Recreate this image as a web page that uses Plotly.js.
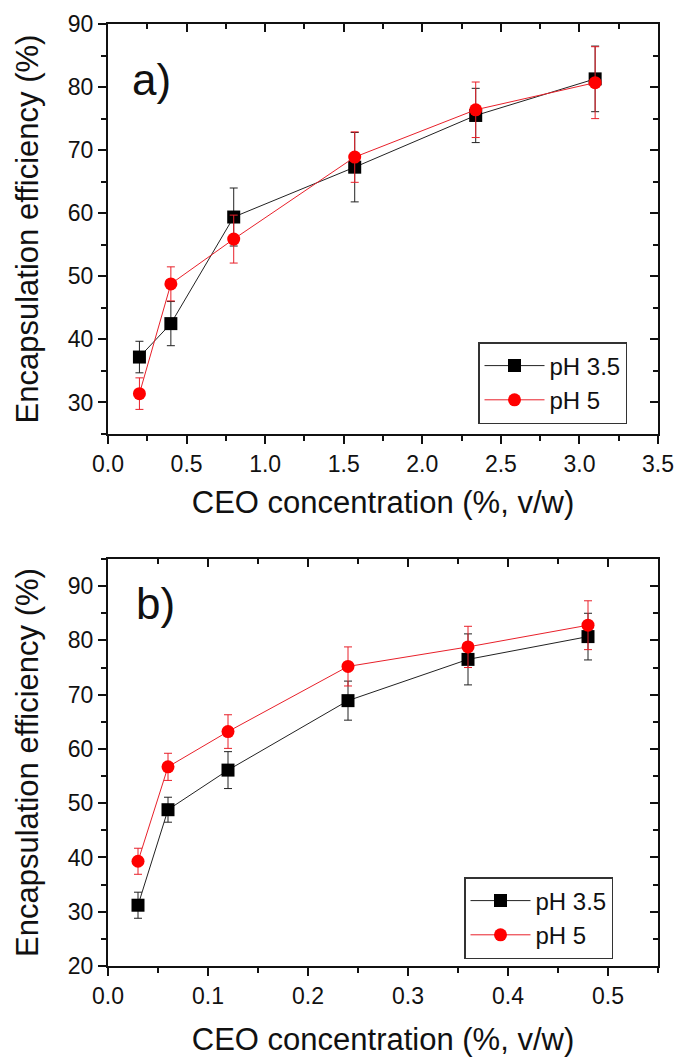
<!DOCTYPE html>
<html>
<head>
<meta charset="utf-8">
<script src="https://cdn.plot.ly/plotly-3.0.1.min.js"></script>
<style>html,body{margin:0;padding:0;background:#fff;}#chart{width:683px;height:1057px;}</style>
</head>
<body>
<div id="chart"></div>
<script>
// Panel a) data
const xA = [0.2, 0.4, 0.8, 1.57, 2.34, 3.1];
const yA_pH35 = [37.2, 42.5, 59.4, 67.3, 75.5, 81.3];
const eA_pH35 = [2.5, 3.5, 4.6, 5.5, 4.3, 5.2];
const yA_pH5 = [31.4, 48.8, 55.9, 68.9, 76.4, 80.7];
const eA_pH5 = [2.5, 2.7, 3.8, 4.0, 4.4, 5.7];
// Panel b) data
const xB = [0.03, 0.06, 0.12, 0.24, 0.36, 0.48];
const yB_pH35 = [31.2, 48.8, 56.1, 68.9, 76.5, 80.7];
const eB_pH35 = [2.4, 2.3, 3.4, 3.6, 4.7, 4.3];
const yB_pH5 = [39.3, 56.7, 63.2, 75.2, 78.8, 82.8];
const eB_pH5 = [2.4, 2.5, 3.1, 3.6, 3.8, 4.5];

const seriesNames = ['pH 3.5', 'pH 5'];
const panelLabels = ['a)', 'b)'];
const xTitle = 'CEO concentration (%, v/w)';
const yTitle = 'Encapsulation efficiency (%)';

const FONT = 'Arial, "Liberation Sans", sans-serif';
const BLACK = '#000000';
const RED = '#ff0000';
const AXC = '#111';

function series(x, y, e, name, color, symbol, xa, ya, legend, lineColor) {
  return {
    type: 'scatter', mode: 'lines+markers', x: x, y: y, name: name,
    xaxis: xa, yaxis: ya, legend: legend,
    line: {color: lineColor, width: 1},
    marker: {color: color, size: 13, symbol: symbol},
    error_y: {type: 'data', array: e, visible: true, color: lineColor, thickness: 1, width: 4}
  };
}
// empty carriers so the mirrored frame axes (top / right) get drawn
function frame(xa, ya) {
  return {type: 'scatter', mode: 'markers', x: [], y: [], xaxis: xa, yaxis: ya,
    showlegend: false, hoverinfo: 'skip'};
}

const data = [
  frame('x3', 'y3'),
  frame('x4', 'y4'),
  series(xA, yA_pH35, eA_pH35, seriesNames[0], BLACK, 'square', 'x', 'y', 'legend', '#222222'),
  series(xA, yA_pH5, eA_pH5, seriesNames[1], RED, 'circle', 'x', 'y', 'legend', '#e8202a'),
  series(xB, yB_pH35, eB_pH35, seriesNames[0], BLACK, 'square', 'x2', 'y2', 'legend2', '#222222'),
  series(xB, yB_pH5, eB_pH5, seriesNames[1], RED, 'circle', 'x2', 'y2', 'legend2', '#e8202a')
];

const W = 683, H = 1057;
const xDom = [108 / W, 658 / W];
const yDomA = [1 - 434 / H, 1 - 24 / H];
const yDomB = [1 - 966 / H, 1 - 559 / H];

const tickFont = {family: FONT, size: 23, color: '#111'};
const titleFont = {family: FONT, size: 31, color: '#111'};

function baseAxis(extra) {
  return Object.assign({
    showline: true, linewidth: 2, linecolor: AXC,
    showgrid: false, zeroline: false,
    ticks: 'outside', ticklen: 8, tickwidth: 2, tickcolor: AXC,
    tickfont: tickFont, automargin: false
  }, extra);
}
function minor(dir, dt) {
  return {ticks: dir, ticklen: 5, dtick: dt, tickwidth: 2, tickcolor: AXC, showgrid: false};
}

const legendFont = {family: FONT, size: 24, color: '#111'};

const layout = {
  width: W, height: H,
  margin: {l: 0, r: 0, t: 0, b: 0},
  paper_bgcolor: '#fff', plot_bgcolor: '#fff',
  showlegend: true,
  font: {family: FONT, color: '#111'},
  xaxis: baseAxis({domain: xDom, anchor: 'y', range: [0, 3.5], tick0: 0, dtick: 0.5, tickformat: '.1f',
    minor: minor('outside', 0.25),
    title: {text: xTitle, font: titleFont, standoff: 16}}),
  yaxis: baseAxis({domain: yDomA, anchor: 'x', range: [25, 90], tick0: 0, dtick: 10,
    minor: minor('outside', 5),
    title: {text: yTitle, font: titleFont, standoff: 20}}),
  xaxis3: baseAxis({overlaying: 'x', anchor: 'y', side: 'top', range: [0, 3.5], tick0: 0, dtick: 0.5,
    ticks: 'inside', showticklabels: false, minor: minor('inside', 0.25)}),
  yaxis3: baseAxis({overlaying: 'y', anchor: 'x', side: 'right', range: [25, 90], tick0: 0, dtick: 10,
    ticks: 'inside', showticklabels: false, minor: minor('inside', 5)}),
  xaxis2: baseAxis({domain: xDom, anchor: 'y2', range: [0, 0.55], tick0: 0, dtick: 0.1, tickformat: '.1f',
    minor: minor('outside', 0.05),
    title: {text: xTitle, font: titleFont, standoff: 21}}),
  yaxis2: baseAxis({domain: yDomB, anchor: 'x2', range: [20, 95], tick0: 0, dtick: 10,
    minor: minor('outside', 5),
    title: {text: yTitle, font: titleFont, standoff: 20}}),
  xaxis4: baseAxis({overlaying: 'x2', anchor: 'y2', side: 'top', range: [0, 0.55], tick0: 0, dtick: 0.1,
    ticks: 'inside', showticklabels: false, minor: minor('inside', 0.05)}),
  yaxis4: baseAxis({overlaying: 'y2', anchor: 'x2', side: 'right', range: [20, 95], tick0: 0, dtick: 10,
    ticks: 'inside', showticklabels: false, minor: minor('inside', 5)}),
  legend: {x: 478 / W, y: 1 - 342 / H, xanchor: 'left', yanchor: 'top',
    bgcolor: '#fff', bordercolor: '#333', borderwidth: 1.5,
    font: legendFont, itemwidth: 60, tracegroupgap: 0},
  legend2: {x: 464 / W, y: 1 - 877 / H, xanchor: 'left', yanchor: 'top',
    bgcolor: '#fff', bordercolor: '#333', borderwidth: 1.5,
    font: legendFont, itemwidth: 60, tracegroupgap: 0},
  annotations: [
    {text: panelLabels[0], xref: 'paper', yref: 'paper', x: 151 / W, y: 1 - 80 / H,
      xanchor: 'center', yanchor: 'middle',
      showarrow: false, font: {family: FONT, size: 44, color: '#111'}},
    {text: panelLabels[1], xref: 'paper', yref: 'paper', x: 155 / W, y: 1 - 603 / H,
      xanchor: 'center', yanchor: 'middle',
      showarrow: false, font: {family: FONT, size: 44, color: '#111'}}
  ]
};

Plotly.newPlot('chart', data, layout, {displayModeBar: false, staticPlot: true});
</script>
</body>
</html>
